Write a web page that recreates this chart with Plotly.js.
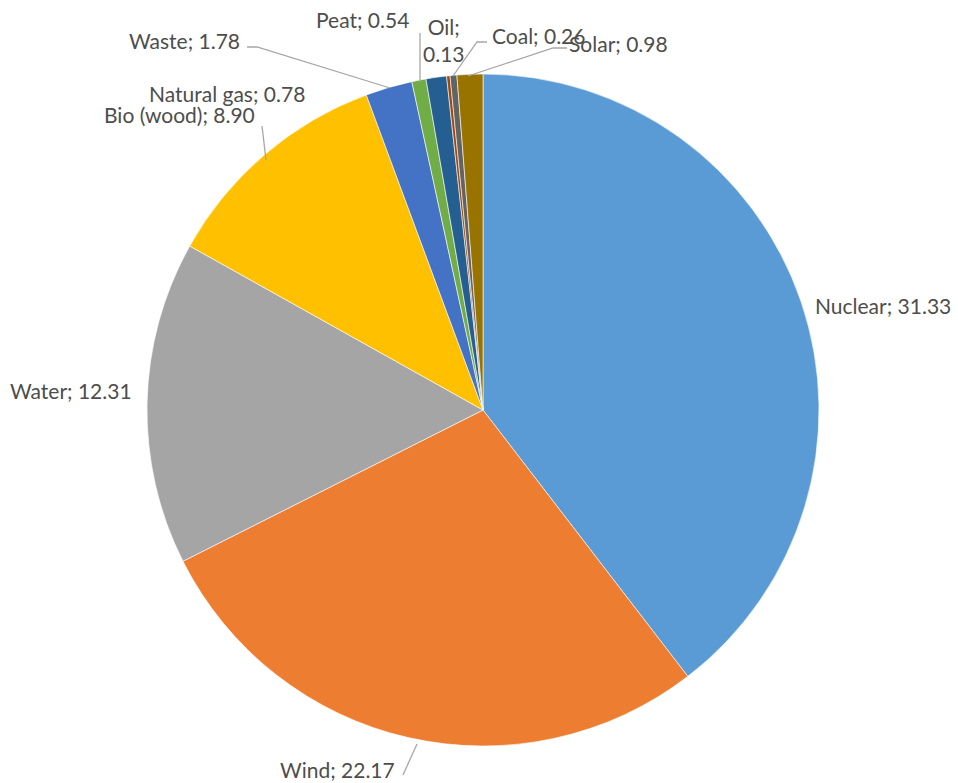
<!DOCTYPE html>
<html><head><meta charset="utf-8">
<script src="https://cdn.plot.ly/plotly-3.0.1.min.js"></script>
<style>html,body{margin:0;padding:0;background:#fff}#chart{width:958px;height:783px}</style>
</head><body><div id="chart"></div>
<script>
const categories = ["Nuclear","Wind","Water","Bio (wood)","Waste","Peat","Natural gas","Oil","Coal","Solar"];
const values = [31.33,22.17,12.31,8.90,1.78,0.54,0.78,0.13,0.26,0.98];
const colors = ["#5B9BD5","#ED7D31","#A5A5A5","#FFC000","#4472C4","#70AD47","#255E91","#9E480E","#636363","#997300"];

const W = 958, H = 783;
const px = x => x / W, py = y => 1 - y / H;

// label text positions (pixels) and anchors
const labelPos = {
  "Nuclear":     {x:813, y:305, a:"left"},
  "Wind":        {x:397, y:769, a:"right"},
  "Water":       {x:8,   y:390, a:"left"},
  "Bio (wood)":  {x:257, y:114, a:"right"},
  "Natural gas": {x:307, y:93,  a:"right"},
  "Waste":       {x:242, y:41,  a:"right"},
  "Peat":        {x:411, y:19,  a:"right"},
  "Oil":         {x:444, y:40,  a:"center", br:true},
  "Coal":        {x:490, y:36,  a:"left"},
  "Solar":       {x:567, y:44,  a:"left"}
};
const leaders = [
  [[417,744],[403,775]],
  [[262,126],[266,160]],
  [[247,47],[257,47],[390,88]],
  [[420,33],[420,82]],
  [[487,42],[477,42],[453,76]],
  [[567,48],[553,48],[468,76]]
];

const annotations = categories.map((c,i) => {
  const p = labelPos[c];
  const v = values[i].toFixed(2);
  return {
    text: p.br ? c + ";<br>" + v : c + "; " + v,
    x: px(p.x), y: py(p.y), xref:"paper", yref:"paper",
    xanchor: p.a, yanchor:"middle", align:"center", showarrow:false,
    font:{family:"Lato, Carlito, 'Open Sans', sans-serif", size:21, color:"#4d4d4d"}
  };
});
const shapes = leaders.map(pts => ({
  type:"path", xref:"paper", yref:"paper",
  path: pts.map((p,k)=> (k?"L":"M") + px(p[0]) + "," + py(p[1])).join(" "),
  line:{color:"#A6A6A6", width:1.3}
}));

const cx = 483, cy = 410, r = 336;
const data = [{
  type:"pie", labels:categories, values:values, sort:false, direction:"clockwise", rotation:0,
  marker:{colors:colors, line:{color:"#ffffff", width:0.6}},
  textinfo:"none", hoverinfo:"label+value", showlegend:false,
  domain:{x:[px(cx-r), px(cx+r)], y:[py(cy+r), py(cy-r)]}
}];
const layout = {
  width:W, height:H, margin:{l:0,r:0,t:0,b:0},
  paper_bgcolor:"#fff", showlegend:false,
  annotations:annotations, shapes:shapes
};
Plotly.newPlot("chart", data, layout, {displayModeBar:false, staticPlot:true});
</script></body></html>
